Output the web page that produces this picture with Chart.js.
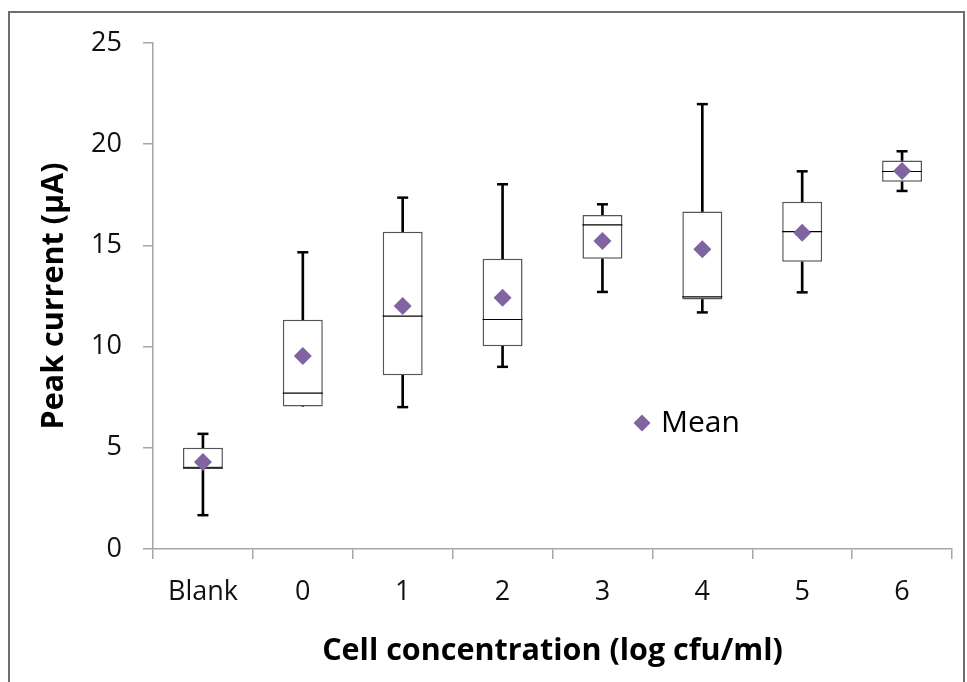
<!DOCTYPE html>
<html>
<head>
<meta charset="utf-8">
<script src="https://cdn.jsdelivr.net/npm/chart.js@4.4.1/dist/chart.umd.min.js"></script>
<style>
  html, body { margin: 0; padding: 0; background: #fff; overflow: hidden; }
</style>
</head>
<body>
<canvas id="chart" width="967" height="682"></canvas>
<script>
// box plot values (peak current, µA)
var categories   = ["Blank", "0", "1", "2", "3", "4", "5", "6"];
var minValues    = [1.67, 7.04, 7.01, 9.00, 12.70, 11.69, 12.68, 17.69];
var q1Values     = [4.00, 7.04, 8.59, 10.02, 14.34, 12.33, 14.19, 18.15];
var medianValues = [4.00, 7.70, 11.51, 11.34, 16.01, 12.46, 15.68, 18.65];
var q3Values     = [5.00, 11.33, 15.68, 14.34, 16.50, 16.67, 17.16, 19.19];
var maxValues    = [5.69, 14.66, 17.36, 18.02, 17.03, 21.98, 18.66, 19.65];
var meanValues   = [4.30, 9.53, 12.00, 12.41, 15.22, 14.81, 15.63, 18.68];
var yTicks       = [0, 5, 10, 15, 20, 25];

var purple = '#8064A2';
var axisGray = '#a6a6a6';
var fontFamily = "'Open Sans', 'Liberation Sans', sans-serif";

// whisker ranges and caps, built from the arrays above
var lowWhisker = q1Values.map(function(q, i) { return [minValues[i], q]; });
var highWhisker = q3Values.map(function(q, i) { return [q, maxValues[i]]; });
var boxes = q1Values.map(function(q, i) { return [q, q3Values[i]]; });
var lowCaps = minValues.map(function(v, i) { return v < q1Values[i] ? v : null; });
var highCaps = maxValues.map(function(v, i) { return v > q3Values[i] ? v : null; });

// outer frame around the whole figure
var framePlugin = {
  id: 'frame',
  beforeDraw: function(chart) {
    var ctx = chart.ctx;
    ctx.save();
    ctx.fillStyle = '#fff';
    ctx.fillRect(0, 0, chart.width, chart.height);
    ctx.strokeStyle = '#6e6e6e';
    ctx.lineWidth = 2;
    ctx.strokeRect(9, 12, 955, 700);
    ctx.restore();
  }
};

// the single "Mean" legend entry sits inside the plot
var meanLegend = {
  id: 'meanLegend',
  afterDraw: function(chart) {
    var ctx = chart.ctx, a = chart.chartArea;
    var x = a.left + 489, y = a.top + 380;
    ctx.save();
    ctx.fillStyle = purple;
    ctx.strokeStyle = purple;
    Chart.helpers.drawPoint(ctx, { pointStyle: 'rectRot', radius: 8.5, rotation: 0, borderWidth: 0 }, x, y);
    ctx.fillStyle = '#000';
    ctx.font = '30px ' + fontFamily;
    ctx.textBaseline = 'middle';
    ctx.fillText('Mean', x + 19, y);
    ctx.restore();
  }
};

var ctx = document.getElementById('chart').getContext('2d');
var chart = new Chart(ctx, {
  type: 'bar',
  data: {
    labels: categories,
    datasets: [
      {
        type: 'line', label: 'Mean', data: meanValues, order: 0,
        showLine: false, pointStyle: 'rectRot', pointRadius: 9,
        pointBackgroundColor: purple, pointBorderWidth: 0, pointBorderColor: purple
      },
      {
        type: 'line', label: 'max cap', data: highCaps, order: 1,
        showLine: false, pointStyle: 'line', pointRadius: 5.5,
        pointBorderColor: '#000', pointBorderWidth: 2.5
      },
      {
        type: 'line', label: 'min cap', data: lowCaps, order: 1,
        showLine: false, pointStyle: 'line', pointRadius: 5.5,
        pointBorderColor: '#000', pointBorderWidth: 2.5
      },
      {
        type: 'line', label: 'median', data: medianValues, order: 2,
        showLine: false, pointStyle: 'line', pointRadius: 20,
        pointBorderColor: '#000', pointBorderWidth: 1.2
      },
      {
        label: 'box', data: boxes, order: 3, grouped: false,
        backgroundColor: '#fff', borderColor: '#555', borderWidth: 1.5,
        borderSkipped: false, barPercentage: 0.4, categoryPercentage: 1
      },
      {
        label: 'upper whisker', data: highWhisker, order: 4, grouped: false,
        backgroundColor: '#000', borderWidth: 0, barThickness: 2
      },
      {
        label: 'lower whisker', data: lowWhisker, order: 4, grouped: false,
        backgroundColor: '#000', borderWidth: 0, barThickness: 2
      }
    ]
  },
  options: {
    responsive: false,
    animation: false,
    layout: { autoPadding: false, padding: { left: 0, top: 43, right: 15, bottom: 0 } },
    plugins: {
      legend: { display: false },
      tooltip: { enabled: false }
    },
    scales: {
      x: {
        offset: true,
        grid: { offset: true, drawOnChartArea: false, drawTicks: true, tickLength: 10, color: axisGray, lineWidth: 1.5 },
        border: { color: axisGray, width: 1.5 },
        ticks: { color: '#111', padding: 17, maxRotation: 0, font: { family: fontFamily, size: 27 } },
        title: {
          display: true, text: 'Cell concentration (log cfu/ml)', color: '#000',
          padding: { top: 0, bottom: 12 },
          font: { family: fontFamily, size: 30.5, weight: 'bold' }
        },
        afterFit: function(scale) {
          scale.height = 133;
          scale.paddingLeft = 0;
          scale.paddingRight = 0;
        }
      },
      y: {
        min: 0, max: 25,
        afterBuildTicks: function(scale) {
          scale.ticks = yTicks.map(function(v) { return { value: v }; });
        },
        grid: { drawOnChartArea: false, drawTicks: true, tickLength: 10, color: axisGray, lineWidth: 1.5 },
        border: { color: axisGray, width: 1.5 },
        ticks: { color: '#111', padding: 21, font: { family: fontFamily, size: 27 } },
        title: {
          display: true, text: 'Peak current (µA)', color: '#000',
          padding: { top: 36, bottom: 0 },
          font: { family: fontFamily, size: 30.5, weight: 'bold' }
        },
        afterFit: function(scale) {
          scale.width = 153;
          scale.paddingTop = 0;
          scale.paddingBottom = 0;
        }
      }
    }
  },
  plugins: [framePlugin, meanLegend]
});
</script>
</body>
</html>
